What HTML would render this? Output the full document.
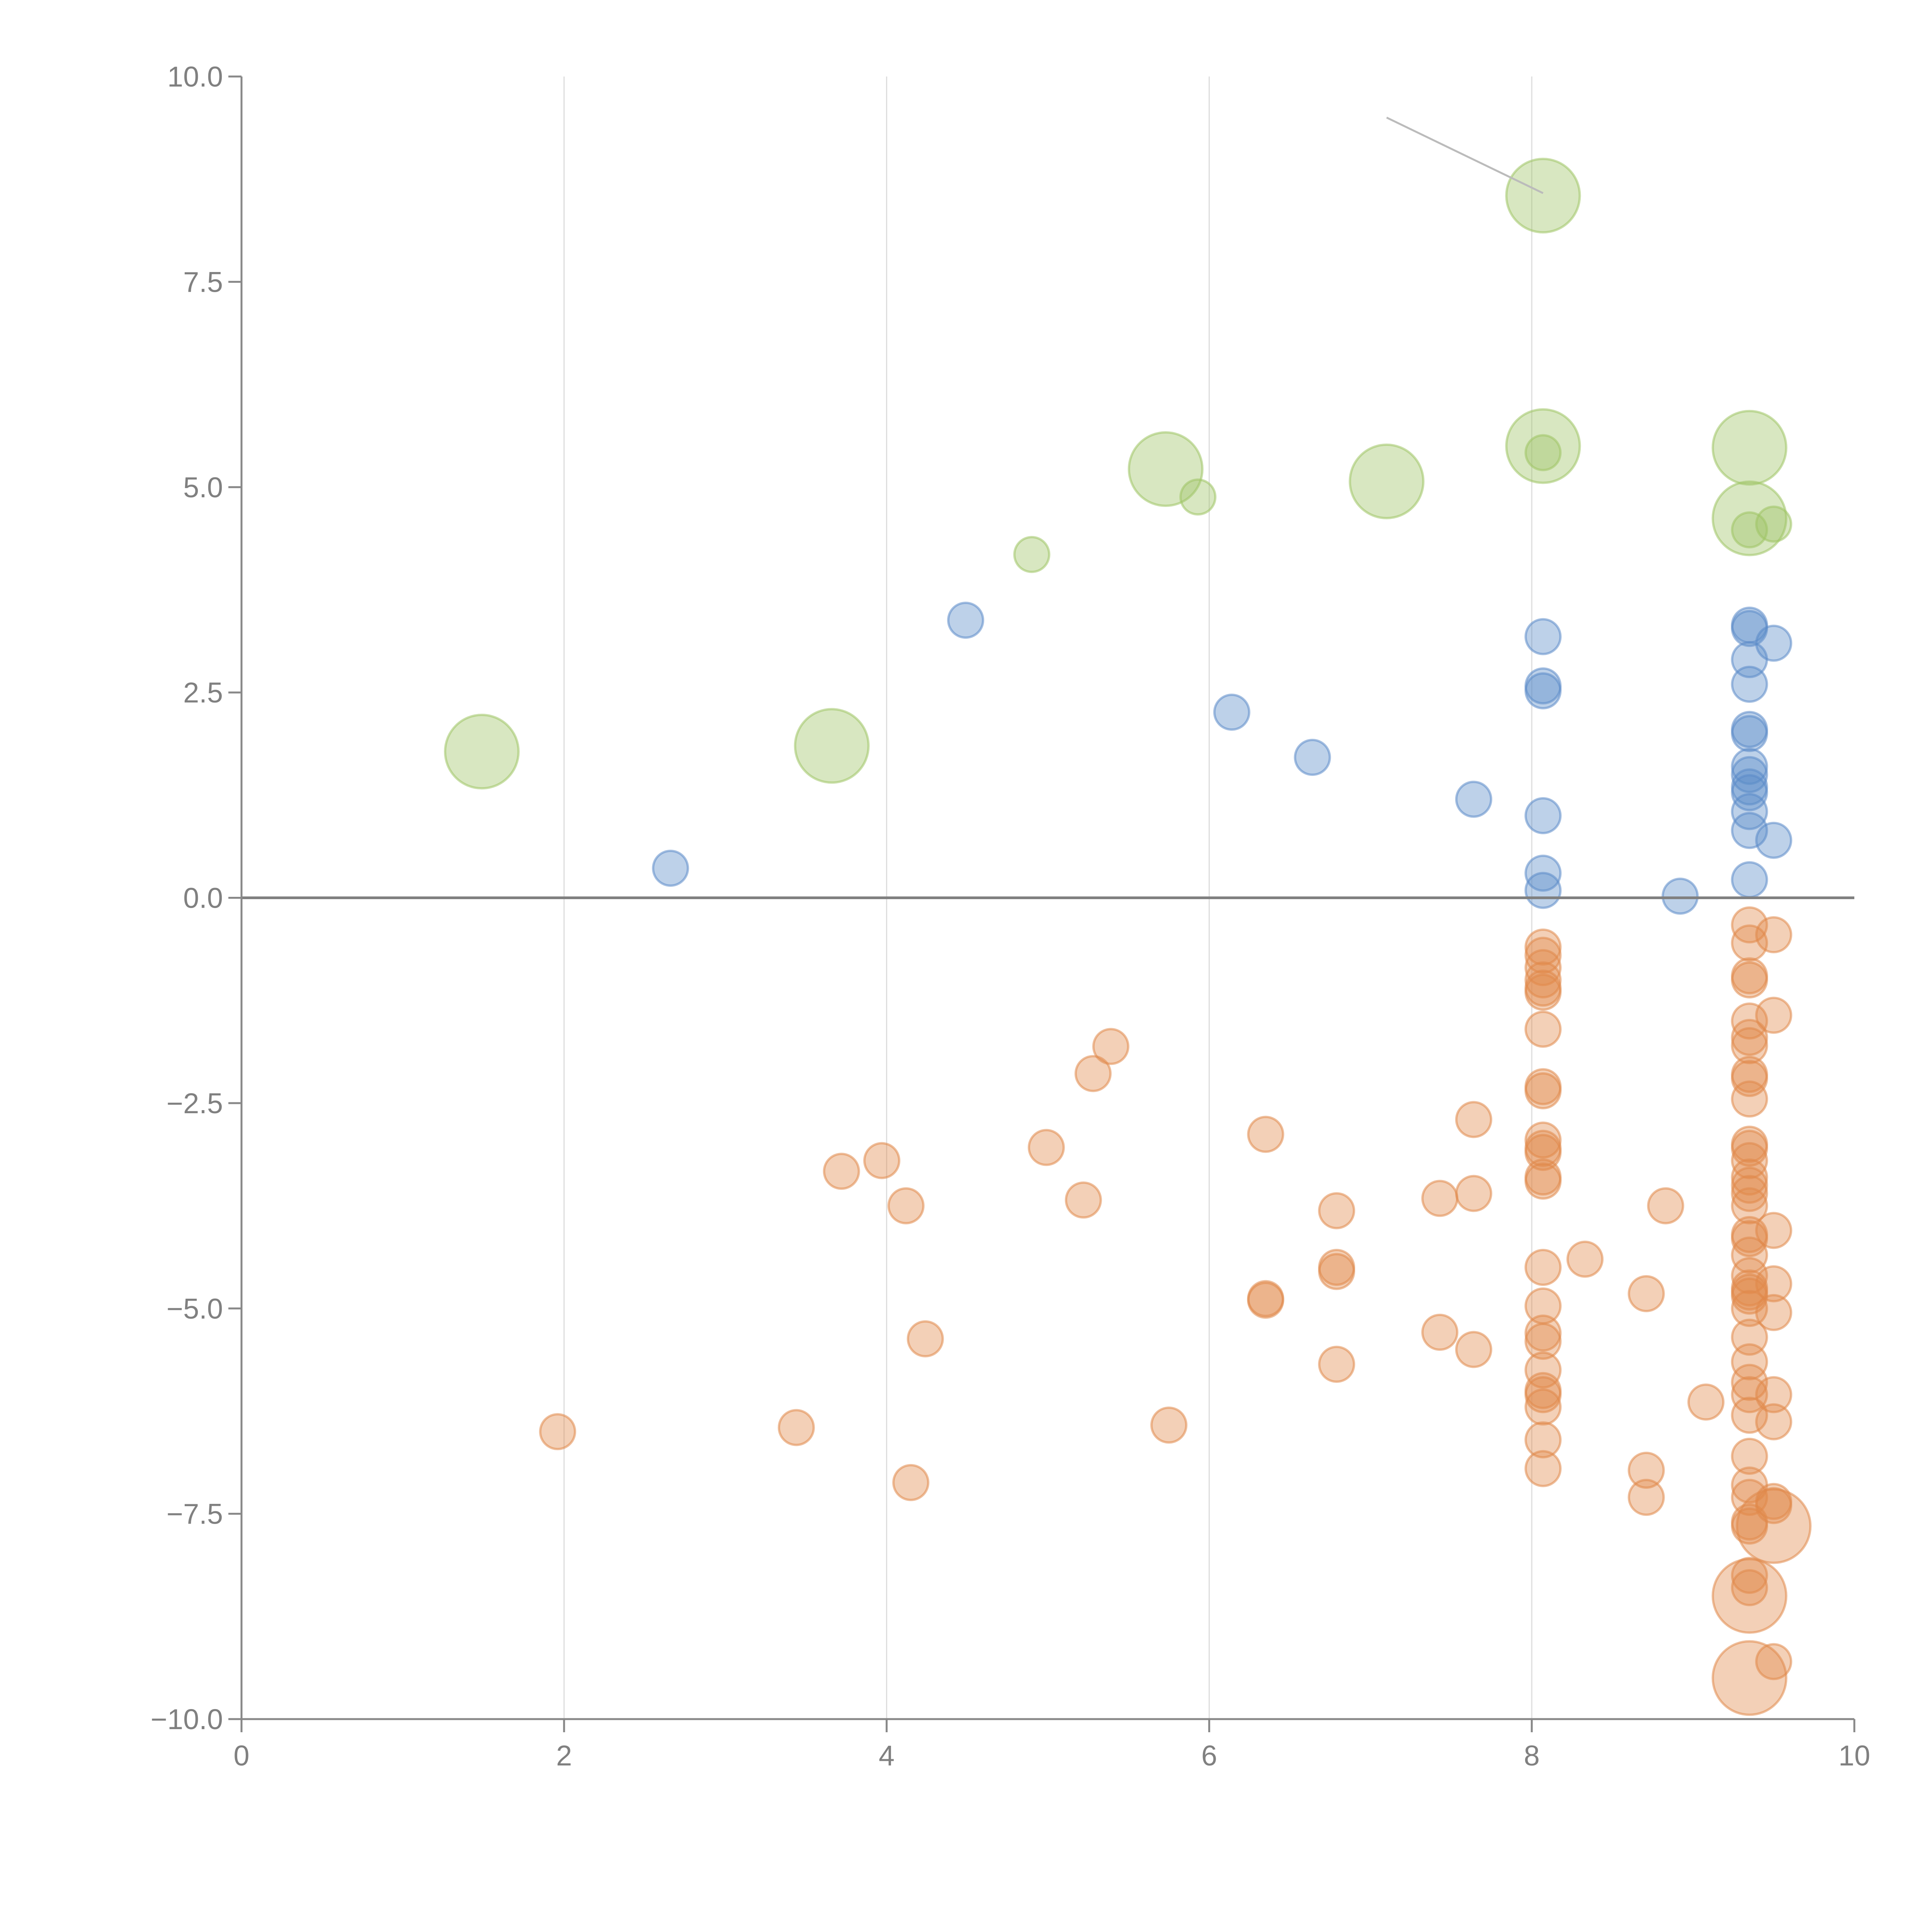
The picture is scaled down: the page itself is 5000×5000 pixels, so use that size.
<!DOCTYPE html>
<html><head><meta charset="utf-8"><style>html,body{margin:0;padding:0;background:#fff}svg{display:block}</style></head>
<body>
<svg id="chart" width="5000" height="5000" xmlns="http://www.w3.org/2000/svg" font-family="Liberation Sans, sans-serif">
<g id="grid"></g>
<g id="marks"></g>
<g id="axes"></g>
</svg>
<script>
const xTicks=[0,2,4,6,8,10];
const yTicks=[-10,-7.5,-5,-2.5,0,2.5,5,7.5,10];
const yTickLabels=["\u221210.0","\u22127.5","\u22125.0","\u22122.5","0.0","2.5","5.0","7.5","10.0"];
const greenBigX=[1.49,3.66,5.73,7.1,8.07,8.07,9.35,9.35];
const greenBigY=[1.78,1.85,5.22,5.07,8.55,5.5,5.48,4.62];
const greenSmallX=[4.9,5.93,8.07,9.35,9.5];
const greenSmallY=[4.18,4.88,5.42,4.48,4.55];
const blueX=[2.66,4.49,6.14,6.64,7.64,8.07,8.07,8.07,8.07,8.07,8.07,8.92,9.35,9.35,9.35,9.35,9.35,9.35,9.35,9.35,9.35,9.35,9.35,9.35,9.35,9.5,9.5];
const blueY=[0.36,3.38,2.26,1.71,1.2,3.18,2.58,2.52,1.0,0.3,0.09,0.02,3.32,3.28,2.9,2.6,2.05,2.0,1.6,1.5,1.35,1.28,1.05,0.82,0.22,3.1,0.7];
const orangeX=[1.96,3.44,3.72,3.97,4.12,4.15,4.24,4.99,5.22,5.28,5.39,5.75,6.35,6.35,6.35,6.79,6.79,6.79,6.79,7.43,7.43,7.64,7.64,7.64,
8.07,8.07,8.07,8.07,8.07,8.07,8.07,8.07,8.07,8.07,8.07,8.07,8.07,8.07,8.07,8.07,8.07,8.07,8.07,8.07,8.07,8.07,8.07,8.07,
8.33,8.71,8.71,8.71,8.83,9.08,
9.35,9.35,9.35,9.35,9.35,9.35,9.35,9.35,9.35,9.35,9.35,9.35,9.35,9.35,9.35,9.35,9.35,9.35,9.35,9.35,9.35,9.35,9.35,9.35,9.35,9.35,9.35,9.35,9.35,9.35,9.35,9.35,9.35,9.35,9.35,9.35,9.35,
9.5,9.5,9.5,9.5,9.5,9.5,9.5,9.5,9.5,9.5];
const orangeY=[-6.5,-6.45,-3.33,-3.2,-3.75,-7.12,-5.37,-3.04,-3.68,-2.14,-1.81,-6.42,-2.88,-4.9,-4.88,-3.81,-4.5,-4.55,-5.68,-3.66,-5.29,-2.7,-3.6,-5.5,
-0.6,-0.7,-0.85,-1.0,-1.1,-1.15,-1.6,-2.3,-2.35,-2.95,-3.05,-3.1,-3.4,-3.45,-4.5,-4.97,-5.3,-5.4,-5.75,-6.0,-6.05,-6.2,-6.6,-6.95,
-4.4,-4.82,-6.97,-7.3,-3.75,-6.14,
-0.33,-0.55,-0.95,-1.0,-1.5,-1.7,-1.8,-2.15,-2.2,-2.45,-3.0,-3.05,-3.2,-3.4,-3.5,-3.6,-3.75,-4.1,-4.15,-4.35,-4.6,-4.75,-4.8,-4.85,-5.0,-5.35,-5.65,-5.9,-6.05,-6.3,-6.8,-7.15,-7.3,-7.6,-7.65,-8.25,-8.4,
-0.45,-1.43,-4.05,-4.7,-5.05,-6.05,-6.38,-7.35,-7.4,-9.3];
const orangeBigX=[9.5,9.35,9.35];
const orangeBigY=[-7.65,-8.5,-9.5];

const X0=625,X1=4799,Y0=4449,Y1=198;
const sx=v=>X0+(v-0)/(10-0)*(X1-X0);
const sy=v=>Y0-(v+10)/20*(Y0-Y1);
const NS="http://www.w3.org/2000/svg";
function mk(tag,attrs,parent){const e=document.createElementNS(NS,tag);for(const k in attrs)e.setAttribute(k,attrs[k]);parent.appendChild(e);return e;}
const grid=document.getElementById('grid'),marks=document.getElementById('marks'),axes=document.getElementById('axes');

xTicks.forEach(t=>{if(t>0&&t<10){const l=mk('line',{x1:sx(t),x2:sx(t),y1:Y1,y2:Y0,stroke:'#dddddd','stroke-width':3},grid);

}});

function draw(xs,ys,r,color,name){xs.forEach((x,i)=>{const c=mk('circle',{cx:sx(x),cy:sy(ys[i]),r:r,fill:color,'fill-opacity':0.4,stroke:color,'stroke-opacity':0.55,'stroke-width':6},marks);

});}
draw(greenBigX,greenBigY,95,'#9ec464','green-big-bubble');
draw(greenSmallX,greenSmallY,45,'#9ec464','green-bubble');
draw(blueX,blueY,45,'#5b8bc9','blue-bubble');
draw(orangeX,orangeY,45,'#e0894a','orange-bubble');
draw(orangeBigX,orangeBigY,95,'#e0894a','orange-big-bubble');

const ann=mk('line',{x1:sx(7.1),y1:sy(9.5),x2:sx(8.07),y2:sy(8.58),stroke:'#bbbbbb','stroke-width':5},marks);



const zl=mk('line',{x1:X0,x2:X1,y1:sy(0),y2:sy(0),stroke:'#808080','stroke-width':7},axes);


const ya=mk('line',{x1:X0,x2:X0,y1:Y1,y2:Y0,stroke:'#888','stroke-width':5},axes);


const xa=mk('line',{x1:X0,x2:X1,y1:Y0,y2:Y0,stroke:'#888','stroke-width':5},axes);



xTicks.forEach(t=>{const tk=mk('line',{x1:sx(t),x2:sx(t),y1:Y0,y2:Y0+34,stroke:'#888','stroke-width':5},axes);


const tx=mk('text',{x:sx(t),y:Y0+120,'text-anchor':'middle','font-size':74,fill:'#808080'},axes);tx.textContent=String(t);

});
yTicks.forEach((t,i)=>{const tk=mk('line',{x1:X0-34,x2:X0,y1:sy(t),y2:sy(t),stroke:'#888','stroke-width':5},axes);


const tx=mk('text',{x:X0-48,y:sy(t)+26,'text-anchor':'end','font-size':74,fill:'#808080'},axes);tx.textContent=yTickLabels[i];

});
</script>
</body></html>
